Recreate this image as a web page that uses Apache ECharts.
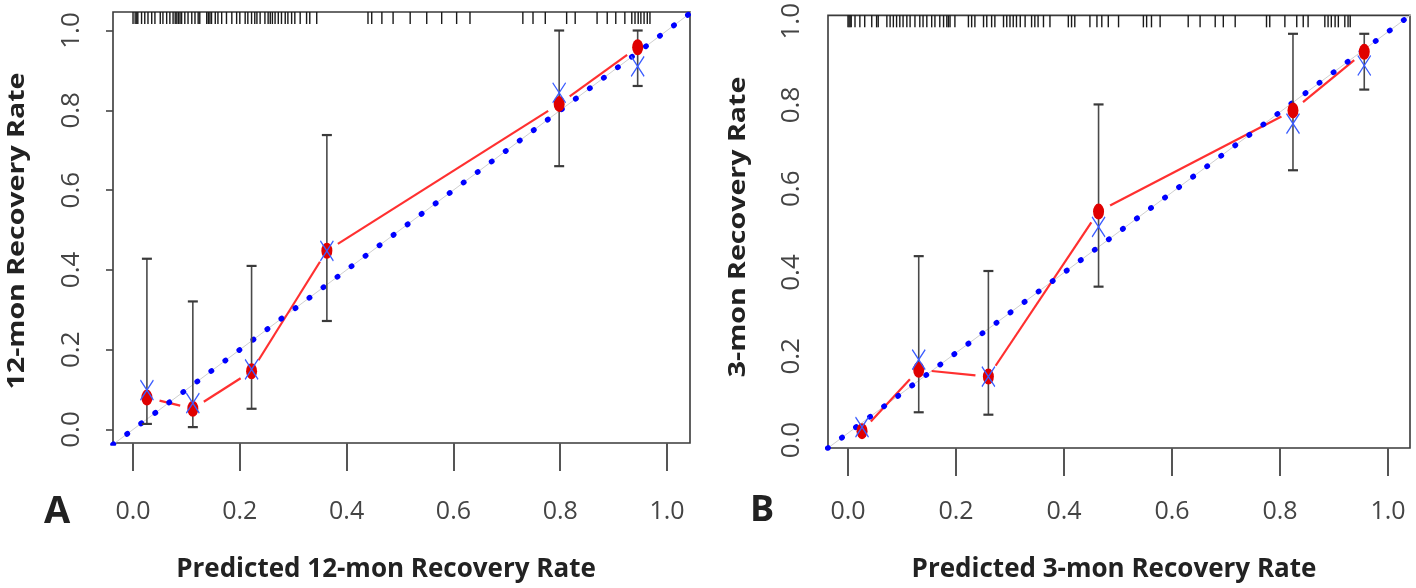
<!DOCTYPE html>
<html>
<head>
<meta charset="utf-8">
<script src="https://cdn.jsdelivr.net/npm/echarts@6/dist/echarts.min.js"></script>
<style>html,body{margin:0;padding:0;background:#fff}#c{width:1416px;height:588px}</style>
</head>
<body>
<div id="c"></div>
<script>
// ---- data ----
const tickVals = [0, 0.2, 0.4, 0.6, 0.8, 1.0];

// Panel A (12-mon)
const predA = [0.026, 0.112, 0.222, 0.363, 0.798, 0.945];
const obsA  = [0.080, 0.052, 0.146, 0.448, 0.816, 0.958];
const corrA = [0.099, 0.066, 0.151, 0.448, 0.844, 0.910];
const loA   = [0.014, 0.006, 0.052, 0.272, 0.660, 0.861];
const hiA   = [0.428, 0.321, 0.410, 0.738, 1.000, 1.000];
const rugA = [0.000, 0.004, 0.007, 0.009, 0.016, 0.022, 0.028, 0.035, 0.041, 0.051, 0.056, 0.063,
  0.069, 0.075, 0.079, 0.082, 0.085, 0.088, 0.091, 0.097, 0.103, 0.110, 0.116, 0.122, 0.125,
  0.138, 0.141, 0.144, 0.147, 0.154, 0.159, 0.166, 0.175, 0.185, 0.194, 0.200, 0.210, 0.215,
  0.222, 0.228, 0.232, 0.238, 0.247, 0.253, 0.257, 0.261, 0.266, 0.272, 0.278, 0.285, 0.290,
  0.297, 0.303, 0.313, 0.325, 0.331, 0.344, 0.440, 0.447, 0.466, 0.487, 0.519, 0.550, 0.578,
  0.606, 0.631, 0.730, 0.749, 0.772, 0.812, 0.828, 0.869, 0.888, 0.904, 0.921, 0.934, 0.940,
  0.946, 0.951, 0.957, 0.963, 0.968];

// Panel B (3-mon)
const predB = [0.026, 0.131, 0.260, 0.464, 0.824, 0.956];
const obsB  = [0.005, 0.158, 0.141, 0.552, 0.804, 0.950];
const corrB = [0.015, 0.183, 0.141, 0.514, 0.771, 0.916];
const loB   = [null, 0.052, 0.046, 0.365, 0.655, 0.856];
const hiB   = [null, 0.441, 0.404, 0.819, 0.995, 0.995];
const rugB = [0.000, 0.002, 0.004, 0.006, 0.013, 0.022, 0.031, 0.044, 0.053, 0.056, 0.072, 0.078,
  0.084, 0.090, 0.096, 0.102, 0.109, 0.115, 0.124, 0.133, 0.139, 0.146, 0.155, 0.161, 0.170,
  0.177, 0.183, 0.186, 0.189, 0.198, 0.223, 0.229, 0.235, 0.251, 0.257, 0.266, 0.272, 0.288,
  0.294, 0.300, 0.306, 0.312, 0.319, 0.328, 0.340, 0.346, 0.352, 0.362, 0.374, 0.408, 0.414,
  0.420, 0.448, 0.461, 0.470, 0.482, 0.501, 0.547, 0.553, 0.562, 0.578, 0.630, 0.652, 0.680,
  0.695, 0.717, 0.775, 0.781, 0.809, 0.831, 0.843, 0.852, 0.883, 0.889, 0.895, 0.902, 0.908,
  0.920, 0.926, 0.930];

const labels = {
  titleXA: 'Predicted 12-mon Recovery Rate',
  titleYA: '12-mon Recovery Rate',
  titleXB: 'Predicted 3-mon Recovery Rate',
  titleYB: '3-mon Recovery Rate',
  panelA: 'A', panelB: 'B'
};

// ---- chart ----
const FONT = "'Open Sans', 'Liberation Sans', sans-serif";
const chart = echarts.init(document.getElementById('c'), null, {renderer: 'canvas'});

function pts(xs, ys) { return xs.map((x, i) => [x, ys[i]]); }
function segs(xs, ys) {
  const out = [];
  for (let i = 0; i < xs.length - 1; i++) out.push([xs[i], ys[i], xs[i + 1], ys[i + 1]]);
  return out;
}
function bars(xs, lo, hi) {
  const out = [];
  xs.forEach((x, i) => { if (lo[i] != null) out.push([x, lo[i], hi[i]]); });
  return out;
}

const GAP = 13;
function segRender(params, api) {
  const a = api.coord([api.value(0), api.value(1)]);
  const b = api.coord([api.value(2), api.value(3)]);
  const dx = b[0] - a[0], dy = b[1] - a[1];
  const L = Math.sqrt(dx * dx + dy * dy);
  if (L <= 2 * GAP) return null;
  const ux = dx / L, uy = dy / L;
  return {
    type: 'line',
    shape: {x1: a[0] + ux * GAP, y1: a[1] + uy * GAP, x2: b[0] - ux * GAP, y2: b[1] - uy * GAP},
    style: {stroke: '#ff3030', lineWidth: 2.2}
  };
}
function barRender(params, api) {
  const x = api.value(0);
  const lo = api.coord([x, api.value(1)]);
  const hi = api.coord([x, api.value(2)]);
  const w = 5;
  return {
    type: 'group',
    children: [
      {type: 'line', shape: {x1: lo[0], y1: lo[1], x2: hi[0], y2: hi[1]}, style: {stroke: '#4a4a4a', lineWidth: 1.6}},
      {type: 'line', shape: {x1: lo[0] - w, y1: lo[1], x2: lo[0] + w, y2: lo[1]}, style: {stroke: '#3a3a3a', lineWidth: 2.2}},
      {type: 'line', shape: {x1: hi[0] - w, y1: hi[1], x2: hi[0] + w, y2: hi[1]}, style: {stroke: '#3a3a3a', lineWidth: 2.2}}
    ]
  };
}
function rugRender(params, api) {
  const p = api.coord([api.value(0), 0]);
  const top = params.coordSys.y;
  return {
    type: 'line',
    shape: {x1: p[0], y1: top, x2: p[0], y2: top + 12},
    style: {stroke: '#1a1a1a', lineWidth: 1.4}
  };
}

function panelSeries(gi, yi, pred, obs, corr, lo, hi, rug) {
  const lo0 = -0.0375, hi0 = 1.06;
  return [
    {type: 'line', xAxisIndex: gi, yAxisIndex: yi, data: [[lo0, lo0], [hi0, hi0]], symbol: 'none',
     lineStyle: {color: '#cfcfcf', width: 1}, silent: true, z: 1},
    {type: 'custom', xAxisIndex: gi, yAxisIndex: yi, data: segs(pred, obs), renderItem: segRender, z: 2},
    {type: 'line', xAxisIndex: gi, yAxisIndex: yi, data: [[lo0, lo0], [hi0, hi0]], symbol: 'none',
     lineStyle: {color: '#0000ff', width: 5.5, type: [0.5, 17], cap: 'round'}, silent: true, z: 3},
    {type: 'custom', xAxisIndex: gi, yAxisIndex: yi, data: bars(pred, lo, hi), renderItem: barRender, z: 4},
    {type: 'scatter', xAxisIndex: gi, yAxisIndex: yi, data: pts(pred, obs), symbol: 'circle',
     symbolSize: [11, 16], itemStyle: {color: '#e00000', opacity: 1}, z: 5},
    {type: 'scatter', xAxisIndex: gi, yAxisIndex: yi, data: pts(pred, corr),
     symbol: 'path://M0,0L10,10M10,0L0,10', symbolSize: [13, 20],
     itemStyle: {color: 'transparent', borderColor: '#3a5cff', borderWidth: 1.4, opacity: 1}, z: 6},
    {type: 'custom', xAxisIndex: gi, yAxisIndex: yi, data: rug.map(v => [v]), renderItem: rugRender, z: 7, clip: false}
  ];
}

const fmt = v => v.toFixed(1);
const tickLabelStyle = {color: '#444', fontFamily: FONT};
const noLine = {show: false, onZero: false};

const option = {
  animation: false,
  backgroundColor: '#fff',
  grid: [
    {left: 113, top: 12, width: 577, height: 431, show: true, borderColor: '#3a3a3a', borderWidth: 1.6, backgroundColor: 'transparent'},
    {left: 828, top: 12, width: 582, height: 436, show: true, borderColor: '#3a3a3a', borderWidth: 1.6, backgroundColor: 'transparent'}
  ],
  xAxis: [
    {type: 'value', gridIndex: 0, position: 'bottom', min: -0.0375, max: 1.043,
     axisLine: noLine, splitLine: {show: false},
     axisTick: {show: true, length: 28, customValues: tickVals, lineStyle: {color: '#555', width: 2}},
     axisLabel: Object.assign({customValues: tickVals, formatter: fmt, margin: 56, fontSize: 25}, tickLabelStyle)},
    {type: 'value', gridIndex: 1, position: 'bottom', min: -0.037, max: 1.0407,
     axisLine: noLine, splitLine: {show: false},
     axisTick: {show: true, length: 28, customValues: tickVals, lineStyle: {color: '#555', width: 2}},
     axisLabel: Object.assign({customValues: tickVals, formatter: fmt, margin: 51, fontSize: 25}, tickLabelStyle)}
  ],
  yAxis: [
    {type: 'value', gridIndex: 0, position: 'left', min: -0.0338, max: 1.0464,
     axisLine: noLine, splitLine: {show: false},
     axisTick: {show: true, length: 7, customValues: tickVals, lineStyle: {color: '#444', width: 1.6}},
     axisLabel: Object.assign({customValues: tickVals, formatter: fmt, margin: 28, fontSize: 26, rotate: 90}, tickLabelStyle)},
    {type: 'value', gridIndex: 1, position: 'left', min: -0.037, max: 1.041,
     axisLine: noLine, splitLine: {show: false}, axisTick: {show: false}, axisLabel: {show: false}},
    {type: 'value', gridIndex: 1, position: 'left', offset: 0, min: -0.019, max: 1.0142,
     axisLine: noLine, splitLine: {show: false}, axisTick: {show: false},
     axisLabel: Object.assign({customValues: tickVals, formatter: fmt, margin: 23, fontSize: 26, rotate: 90}, tickLabelStyle)}
  ],
  series: [].concat(
    panelSeries(0, 0, predA, obsA, corrA, loA, hiA, rugA),
    panelSeries(1, 1, predB, obsB, corrB, loB, hiB, rugB)
  ),
  graphic: [
    {type: 'text', x: 57, y: 512, style: {text: labels.panelA, font: 'bold 38px ' + FONT, fill: '#222', align: 'center', verticalAlign: 'middle'}},
    {type: 'text', x: 762, y: 511, style: {text: labels.panelB, font: 'bold 36px ' + FONT, fill: '#222', align: 'center', verticalAlign: 'middle'}},
    {type: 'text', x: 386, y: 570, style: {text: labels.titleXA, font: 'bold 26px ' + FONT, fill: '#222', align: 'center', verticalAlign: 'middle'}},
    {type: 'text', x: 1114, y: 570, style: {text: labels.titleXB, font: 'bold 26px ' + FONT, fill: '#222', align: 'center', verticalAlign: 'middle'}},
    {type: 'text', x: 17, y: 231, rotation: Math.PI / 2, scaleX: 1.19, style: {text: labels.titleYA, font: 'bold 24px ' + FONT, fill: '#222', align: 'center', verticalAlign: 'middle'}},
    {type: 'text', x: 738, y: 227, rotation: Math.PI / 2, scaleX: 1.19, style: {text: labels.titleYB, font: 'bold 24px ' + FONT, fill: '#222', align: 'center', verticalAlign: 'middle'}}
  ]
};
chart.setOption(option);
</script>
</body>
</html>
